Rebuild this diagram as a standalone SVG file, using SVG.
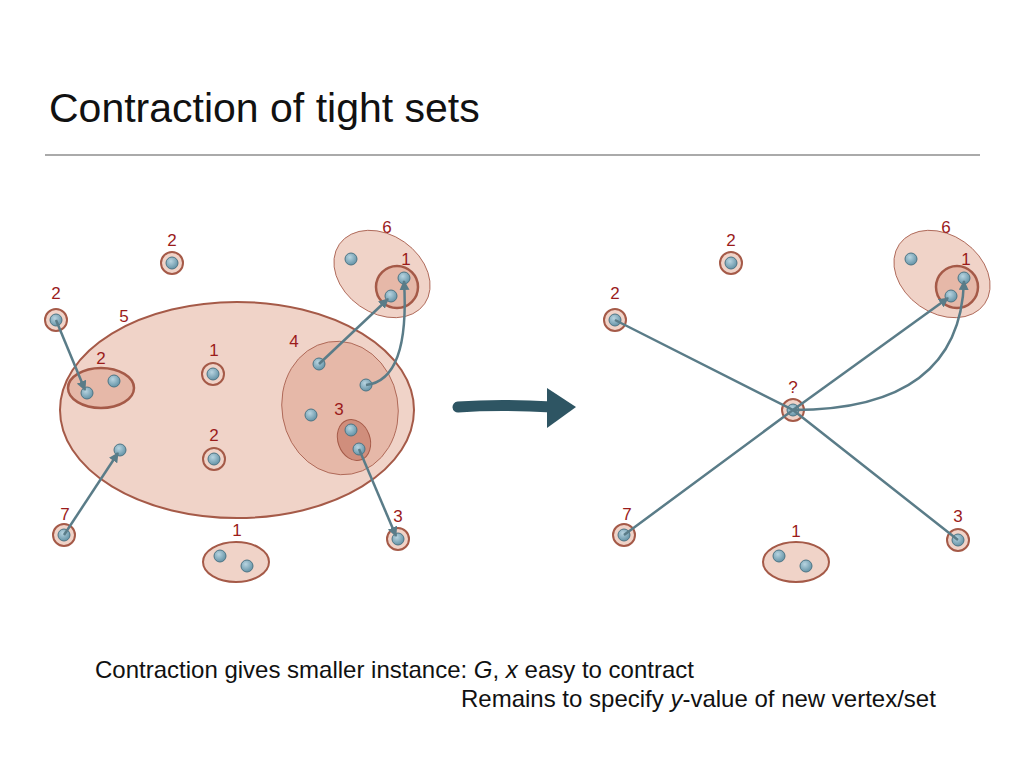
<svg xmlns="http://www.w3.org/2000/svg" width="1024" height="768" viewBox="0 0 1024 768">
<defs>
<radialGradient id="g" cx="0.4" cy="0.35" r="0.7"><stop offset="0" stop-color="#b8d4e0"/><stop offset="1" stop-color="#5f8fa3"/></radialGradient>
<marker id="a" viewBox="0 0 10 10" refX="9" refY="5" markerWidth="4" markerHeight="4" orient="auto"><path d="M0,0L10,5L0,10z" fill="#5a7c88"/></marker>
</defs>
<style>
.n{fill:url(#g);stroke:#4d7585;stroke-width:1}
.s{fill:#f0d3c8;stroke:#a55a48;stroke-width:2}
.sl{fill:#f0d3c8;stroke:#a55a48;stroke-width:0.8}
.s2{fill:#e6b8a8;stroke:#a55a48;stroke-width:0.8}
.s3{fill:#d08e7c;stroke:#a55a48;stroke-width:1}
.c{fill:#e6b8a8;stroke:#a55a48;stroke-width:2.5}
.l{font-family:"Liberation Sans",Arial,sans-serif;font-size:17px;fill:#9b1b1b;text-anchor:middle}
.e{fill:none;stroke:#5a7c88;stroke-width:2.5;marker-end:url(#a)}
.t{font-family:"Liberation Sans",Arial,sans-serif}
</style>
<rect width="1024" height="768" fill="#fff"/>
<text class="t" x="49" y="122" font-size="41" fill="#111">Contraction of tight sets</text>
<line x1="45" y1="155" x2="980" y2="155" stroke="#aaa" stroke-width="2"/>
<g id="left">
<ellipse class="s" cx="237" cy="410" rx="177" ry="108"/>
<ellipse class="s2" cx="340" cy="408" rx="58" ry="67" transform="rotate(-10 340 408)"/>
<ellipse class="s3" cx="354" cy="440" rx="16" ry="21" transform="rotate(-20 354 440)"/>
<ellipse class="sl" cx="382" cy="274" rx="52" ry="39" transform="rotate(35 382 274)"/>
<circle class="c" cx="397" cy="287" r="21"/>
<ellipse class="c" cx="101" cy="388" rx="33" ry="20"/>
<ellipse class="s" cx="236" cy="562" rx="33" ry="20"/>
<circle class="s" cx="172" cy="263" r="11"/><circle class="s" cx="56" cy="320" r="11"/>
<circle class="s" cx="213" cy="374" r="11"/><circle class="s" cx="214" cy="459" r="11"/>
<circle class="s" cx="64" cy="535" r="11"/><circle class="s" cx="398" cy="539" r="11"/>
<g id="lnodes">
<circle class="n" cx="172" cy="263" r="6"/><circle class="n" cx="56" cy="320" r="6"/>
<circle class="n" cx="87" cy="393" r="6"/><circle class="n" cx="114" cy="381" r="6"/>
<circle class="n" cx="213" cy="374" r="6"/><circle class="n" cx="214" cy="459" r="6"/>
<circle class="n" cx="120" cy="450" r="6"/><circle class="n" cx="64" cy="535" r="6"/>
<circle class="n" cx="319" cy="364" r="6"/><circle class="n" cx="366" cy="385" r="6"/>
<circle class="n" cx="311" cy="415" r="6"/><circle class="n" cx="351" cy="430" r="6"/>
<circle class="n" cx="359" cy="449" r="6"/><circle class="n" cx="398" cy="539" r="6"/>
<circle class="n" cx="220" cy="556" r="6"/><circle class="n" cx="247" cy="566" r="6"/>
<circle class="n" cx="351" cy="259" r="6"/><circle class="n" cx="404" cy="278" r="6"/>
<circle class="n" cx="391" cy="296" r="6"/>
</g>
<text class="l" x="172" y="246">2</text><text class="l" x="56" y="299">2</text>
<text class="l" x="124" y="322">5</text><text class="l" x="101" y="364">2</text>
<text class="l" x="214" y="356">1</text><text class="l" x="214" y="441">2</text>
<text class="l" x="65" y="520">7</text><text class="l" x="294" y="347">4</text>
<text class="l" x="339" y="415">3</text><text class="l" x="398" y="522">3</text>
<text class="l" x="237" y="536">1</text><text class="l" x="387" y="233">6</text>
<text class="l" x="406" y="265">1</text>
</g>
<g id="right">
<ellipse class="sl" cx="942" cy="274" rx="52" ry="39" transform="rotate(35 942 274)"/>
<circle class="c" cx="957" cy="287" r="21"/>
<ellipse class="s" cx="796" cy="562" rx="33" ry="20"/>
<circle class="s" cx="731" cy="263" r="11"/><circle class="s" cx="615" cy="320" r="11"/>
<circle class="s" cx="793" cy="410" r="11"/><circle class="s" cx="624" cy="535" r="11"/>
<circle class="s" cx="958" cy="540" r="11"/>
<circle class="n" cx="731" cy="263" r="6"/><circle class="n" cx="615" cy="320" r="6"/>
<circle class="n" cx="793" cy="410" r="6"/><circle class="n" cx="624" cy="535" r="6"/>
<circle class="n" cx="958" cy="540" r="6"/><circle class="n" cx="779" cy="556" r="6"/>
<circle class="n" cx="806" cy="566" r="6"/><circle class="n" cx="911" cy="259" r="6"/>
<circle class="n" cx="964" cy="278" r="6"/><circle class="n" cx="951" cy="296" r="6"/>
<text class="l" x="731" y="246">2</text><text class="l" x="615" y="299">2</text>
<text class="l" x="793" y="393">?</text><text class="l" x="627" y="520">7</text>
<text class="l" x="958" y="522">3</text><text class="l" x="796" y="537">1</text>
<text class="l" x="946" y="233">6</text><text class="l" x="966" y="265">1</text>
</g>
<g id="connectors">
<line class="e" x1="56" y1="320" x2="85" y2="390"/>
<line class="e" x1="64" y1="535" x2="118" y2="453"/>
<line class="e" x1="319" y1="364" x2="388" y2="299"/>
<path class="e" d="M366,385 Q410,380 404,281"/>
<line class="e" x1="359" y1="449" x2="396" y2="536"/>
<path d="M615,320L793,410L624,535M793,410L958,540" fill="none" stroke="#5a7c88" stroke-width="2.5"/>
<line class="e" x1="793" y1="410" x2="948" y2="298"/>
<path class="e" d="M793,410 Q960,410 964,281"/>
<path d="M458,407 Q500,404 552,407" stroke="#2e5563" stroke-width="11" stroke-linecap="round" fill="none"/>
<path d="M547,388 L576,407 L547,428 Z" fill="#2e5563"/>
</g>
<text class="t" x="95" y="678" font-size="24" fill="#111">Contraction gives smaller instance: <tspan font-style="italic">G</tspan>, <tspan font-style="italic">x</tspan> easy to contract</text>
<text class="t" x="461" y="707" font-size="24" fill="#111">Remains to specify <tspan font-style="italic">y</tspan>-value of new vertex/set</text>
</svg>
